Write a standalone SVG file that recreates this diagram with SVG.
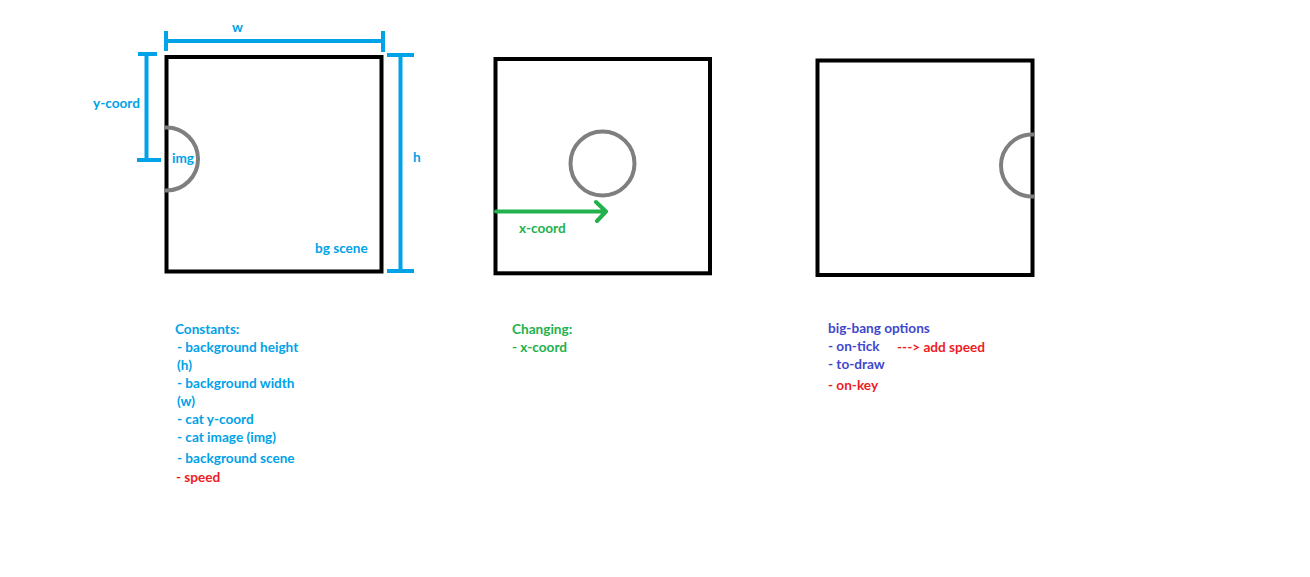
<svg xmlns="http://www.w3.org/2000/svg" width="1310" height="577" viewBox="0 0 1310 577">
<style>
.frame{fill:none;stroke:#000;stroke-width:4}
.cat{fill:none;stroke:#7f7f7f;stroke-width:4}
.dim{fill:none;stroke:#00a2e8;stroke-width:4}
.arr{fill:none;stroke:#22b14c;stroke-width:4;stroke-linecap:round;stroke-linejoin:round}
text{font-family:Lato,"Liberation Sans",sans-serif;font-weight:bold;font-size:13.6px}
.b{fill:#00a2e8}.g{fill:#22b14c}.r{fill:#ed1c24}.v{fill:#3f48cc}
</style>
<rect width="1310" height="577" fill="#fff"/>
<g id="scene1">
<rect class="frame" x="166.5" y="57" width="215" height="214.5"/>
<path class="cat" d="M164,127.5 H166.5 A31.5,31.5 0 0 1 166.5,190.5 H164"/>
<text class="b" x="172" y="163">img</text>
<text class="b" x="315" y="253">bg scene</text>
</g>
<g id="scene2">
<rect class="frame" x="495.5" y="59" width="214.5" height="214.3"/>
<circle class="cat" cx="602.5" cy="163.5" r="32"/>
</g>
<g id="scene3">
<rect class="frame" x="817.5" y="60.5" width="215" height="214.5"/>
<path class="cat" d="M1035,134.5 H1032 A31,31 0 0 0 1032,196.5 H1035"/>
</g>
<g id="connectors">
<path class="dim" d="M164,41 H384 M166,31 V51 M383,31 V52"/>
<text class="b" x="232" y="32">w</text>
<path class="dim" d="M146.5,54 V160 M138,54 H157 M137,160 H161"/>
<text class="b" x="93" y="108">y-coord</text>
<path class="dim" d="M400.5,55 V271 M387,55 H414 M387,271 H414"/>
<text class="b" x="413" y="162">h</text>
<path class="arr" d="M496,211.5 H606 M596,202 L606,211.5 L597,221"/>
<text class="g" x="519" y="233">x-coord</text>
</g>
<g id="constants">
<text class="b" x="175" y="334">Constants:</text>
<text class="b" x="177" y="352">- background height</text>
<text class="b" x="177" y="370">(h)</text>
<text class="b" x="177" y="388">- background width</text>
<text class="b" x="177" y="406">(w)</text>
<text class="b" x="177" y="424">- cat y-coord</text>
<text class="b" x="177" y="442">- cat image (img)</text>
<text class="b" x="177" y="463">- background scene</text>
<text class="r" x="176" y="482">- speed</text>
</g>
<g id="changing">
<text class="g" x="512" y="334">Changing:</text>
<text class="g" x="512" y="352">- x-coord</text>
</g>
<g id="bigbang">
<text class="v" x="828" y="333">big-bang options</text>
<text class="v" x="828" y="351">- on-tick</text>
<text class="r" x="897" y="352">---&gt; add speed</text>
<text class="v" x="828" y="369">- to-draw</text>
<text class="r" x="828" y="390">- on-key</text>
</g>
</svg>
